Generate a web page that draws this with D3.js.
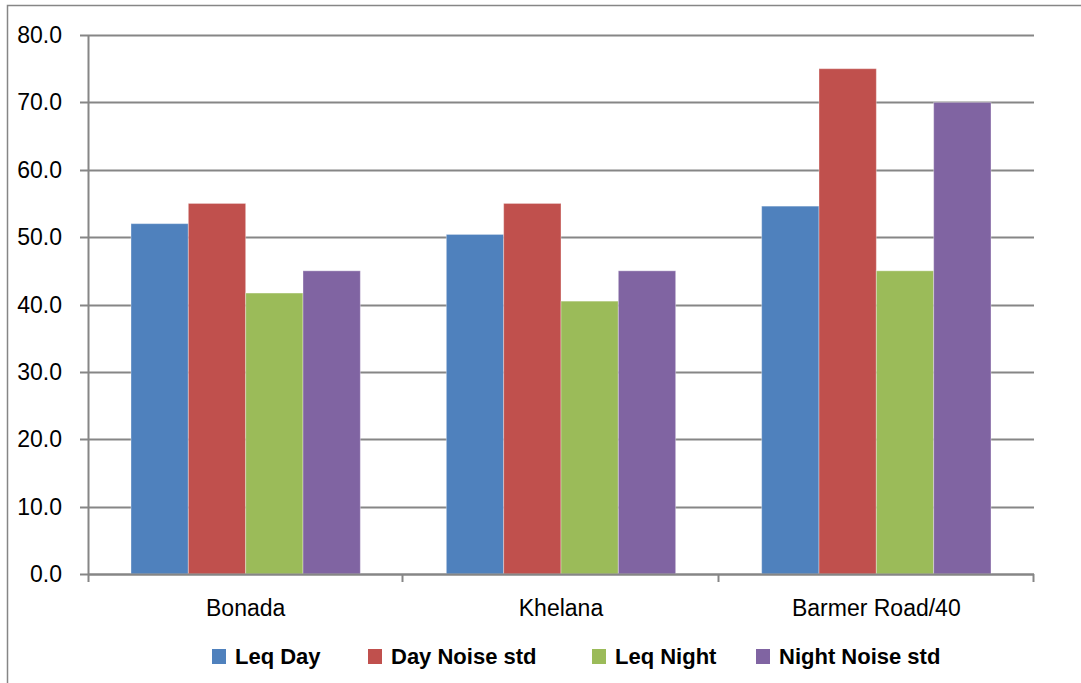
<!DOCTYPE html>
<html>
<head>
<meta charset="utf-8">
<script src="https://cdn.jsdelivr.net/npm/d3@7"></script>
<style>
  html, body { margin: 0; padding: 0; background: #fff; }
  svg { display: block; }
  text { font-family: "Liberation Sans", Arial, sans-serif; fill: #000; }
</style>
</head>
<body>
<svg id="chart" width="1081" height="683"></svg>
<script>
// Noise levels (dB) per monitoring location
const categories = ["Bonada", "Khelana", "Barmer Road/40"];
const seriesNames = ["Leq Day", "Day Noise std", "Leq Night", "Night Noise std"];
const leqDay = [52.0, 50.4, 54.6];
const dayNoiseStd = [55.0, 55.0, 75.0];
const leqNight = [41.7, 40.5, 45.0];
const nightNoiseStd = [45.0, 45.0, 70.0];
const yTicks = [0, 10, 20, 30, 40, 50, 60, 70, 80];
const colors = ["#4F81BD", "#C0504D", "#9BBB59", "#8064A2"];

const seriesValues = [leqDay, dayNoiseStd, leqNight, nightNoiseStd];

const svg = d3.select("#chart");
const plot = { left: 88, right: 1034, top: 35, bottom: 574 };
const gridColor = "#868686";

// Outer chart frame
svg.append("path")
  .attr("d", "M7.5,690 V5.5 H1090")
  .attr("fill", "none")
  .attr("stroke", gridColor)
  .attr("stroke-width", 1.5);

const x0 = d3.scaleBand().domain(categories).range([plot.left, plot.right]).paddingInner(0).paddingOuter(0);
const x1 = d3.scaleBand().domain(seriesNames).range([0, x0.bandwidth()]).paddingInner(0).paddingOuter(0.75);
const y = d3.scaleLinear().domain([0, 80]).range([plot.bottom, plot.top]);

// Horizontal gridlines + y tick marks
svg.append("g")
  .selectAll("line")
  .data(yTicks)
  .join("line")
  .attr("x1", plot.left - 8)
  .attr("x2", plot.right)
  .attr("y1", d => Math.round(y(d)) + 0.5)
  .attr("y2", d => Math.round(y(d)) + 0.5)
  .attr("stroke", gridColor)
  .attr("stroke-width", 2);

// Bars
const groups = svg.append("g")
  .selectAll("g")
  .data(categories)
  .join("g")
  .attr("transform", d => `translate(${x0(d)},0)`);

groups.selectAll("rect")
  .data((c, i) => seriesNames.map((s, k) => ({ s, k, v: seriesValues[k][i] })))
  .join("rect")
  .attr("x", d => x1(d.s))
  .attr("width", x1.bandwidth())
  .attr("y", d => y(d.v))
  .attr("height", d => y(0) - y(d.v))
  .attr("fill", d => colors[d.k])
  .attr("stroke", "rgba(255,255,255,0.35)")
  .attr("stroke-width", 1);

// Axes lines
svg.append("line")
  .attr("x1", plot.left + 0.5).attr("x2", plot.left + 0.5)
  .attr("y1", plot.top).attr("y2", plot.bottom + 8)
  .attr("stroke", gridColor).attr("stroke-width", 2);
svg.append("line")
  .attr("x1", plot.left).attr("x2", plot.right)
  .attr("y1", plot.bottom + 0.5).attr("y2", plot.bottom + 0.5)
  .attr("stroke", gridColor).attr("stroke-width", 2);

// Category boundary ticks on x axis
const boundaries = categories.map(c => x0(c) + x0.bandwidth());
svg.append("g")
  .selectAll("line")
  .data(boundaries)
  .join("line")
  .attr("x1", d => Math.round(d) - 0.5)
  .attr("x2", d => Math.round(d) - 0.5)
  .attr("y1", plot.bottom)
  .attr("y2", plot.bottom + 8)
  .attr("stroke", gridColor)
  .attr("stroke-width", 2);

// Y tick labels
svg.append("g")
  .selectAll("text")
  .data(yTicks)
  .join("text")
  .attr("x", 62)
  .attr("y", d => y(d) + 8)
  .attr("text-anchor", "end")
  .style("font-size", "23px")
  .text(d3.format(".1f"));

// Category labels
svg.append("g")
  .selectAll("text")
  .data(categories)
  .join("text")
  .attr("x", d => x0(d) + x0.bandwidth() / 2)
  .attr("y", 616)
  .attr("text-anchor", "middle")
  .style("font-size", "23px")
  .text(d => d);

// Legend
const legendX = [212, 368, 592, 756];
const legend = svg.append("g")
  .selectAll("g")
  .data(seriesNames)
  .join("g")
  .attr("transform", (d, i) => `translate(${legendX[i]},649)`);
legend.append("rect")
  .attr("width", 14).attr("height", 15)
  .attr("fill", (d, i) => colors[i]);
legend.append("text")
  .attr("x", 23).attr("y", 15)
  .style("font-size", "22px")
  .style("font-weight", "bold")
  .text(d => d);
</script>
</body>
</html>
